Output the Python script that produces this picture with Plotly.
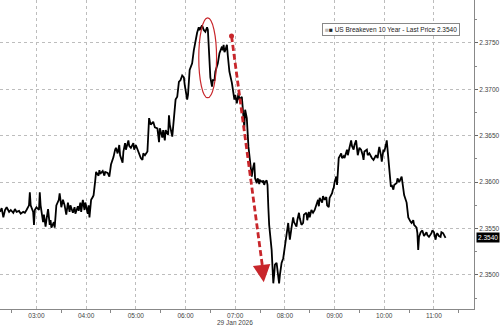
import plotly.graph_objects as go

DATE = "2026-01-29"

times = ["02:16","02:18","02:20","02:22","02:24","02:27","02:29","02:32","02:34","02:36","02:39","02:41","02:44","02:46","02:48","02:51","02:52","02:53","02:56","02:57","02:58",
"03:00","03:03","03:04","03:05","03:08","03:09","03:11","03:12","03:14","03:16","03:17","03:18","03:21","03:22","03:24","03:27","03:28","03:29","03:30","03:32","03:34","03:36","03:38","03:40","03:41","03:44","03:46","03:47","03:50","03:51","03:53","03:54","03:56","03:58","03:59",
"04:02","04:03","04:04","04:05","04:06","04:08","04:09","04:11","04:12","04:15","04:16","04:17","04:20","04:22","04:23","04:26","04:28","04:30","04:32","04:33","04:35","04:36","04:38","04:40","04:41","04:44","04:45","04:47","04:48","04:51","04:52","04:54","04:57","04:58",
"05:00","05:03","05:04","05:06","05:08","05:09","05:11","05:14","05:15","05:16","05:18","05:21","05:23","05:26","05:27","05:28","05:29","05:32","05:33","05:35","05:36","05:39","05:40","05:41","05:44","05:46","05:48","05:50","05:52","05:54","05:56","05:58","05:59",
"06:02","06:03","06:05","06:08","06:10","06:12","06:14","06:16","06:17","06:20","06:22","06:24","06:26","06:27","06:28","06:29","06:30","06:32","06:33","06:35","06:36","06:39","06:40","06:41","06:44","06:45","06:46","06:47","06:48","06:50","06:51","06:52","06:53","06:56","06:57","06:59",
"07:00","07:02","07:04","07:05","07:08","07:09","07:10","07:11","07:12","07:14","07:16","07:17","07:20","07:21","07:23","07:24","07:26","07:27","07:28","07:29","07:30","07:33","07:34","07:35","07:36","07:38","07:39","07:40","07:41","07:44","07:45","07:46","07:47","07:48","07:50","07:51","07:53","07:54","07:56","07:58","07:59",
"08:00","08:02","08:03","08:04","08:05","08:06","08:08","08:09","08:10","08:11","08:14","08:15","08:17","08:18","08:20","08:22","08:23","08:26","08:27","08:29","08:30","08:32","08:34","08:36","08:38","08:40","08:41","08:42","08:45","08:46","08:48","08:50","08:51","08:53","08:54","08:57","08:58","08:59",
"09:00","09:02","09:03","09:04","09:05","09:08","09:09","09:11","09:12","09:15","09:16","09:18","09:20","09:21","09:23","09:24","09:26","09:27","09:28","09:30","09:32","09:34","09:35","09:36","09:39","09:40","09:42","09:45","09:47","09:50","09:52","09:53","09:54","09:56","09:57","09:59",
"10:00","10:02","10:03","10:04","10:05","10:06","10:08","10:09","10:11","10:12","10:15","10:16","10:18","10:21","10:22","10:23","10:24","10:27","10:28","10:29","10:32","10:33","10:35","10:36","10:39","10:40","10:41","10:42","10:44","10:46","10:48","10:51","10:52","10:54","10:57","10:58",
"11:00","11:02","11:03","11:04","11:06","11:08","11:09","11:11","11:14"]

values = [2.3568,2.3572,2.3562,2.3570,2.3573,2.3568,2.3570,2.3567,2.3571,2.3568,2.3569,2.3566,2.3568,2.3567,2.3570,2.3575,2.3589,2.3575,2.3568,2.3554,2.3570,
2.3573,2.3570,2.3589,2.3575,2.3557,2.3565,2.3552,2.3559,2.3571,2.3554,2.3559,2.3551,2.3557,2.3551,2.3575,2.3581,2.3588,2.3581,2.3573,2.3581,2.3575,2.3565,2.3578,2.3568,2.3575,2.3567,2.3573,2.3566,2.3574,2.3569,2.3578,2.3568,2.3581,2.3570,2.3578,
2.3566,2.3575,2.3562,2.3570,2.3581,2.3584,2.3586,2.3602,2.3611,2.3607,2.3613,2.3609,2.3612,2.3607,2.3611,2.3610,2.3606,2.3619,2.3624,2.3627,2.3635,2.3637,2.3631,2.3640,2.3629,2.3621,2.3633,2.3642,2.3635,2.3645,2.3639,2.3637,2.3642,2.3635,
2.3640,2.3633,2.3629,2.3626,2.3624,2.3631,2.3629,2.3633,2.3651,2.3669,2.3662,2.3665,2.3659,2.3658,2.3651,2.3643,2.3658,2.3648,2.3656,2.3645,2.3656,2.3651,2.3672,2.3662,2.3649,2.3667,2.3689,2.3692,2.3708,2.3710,2.3715,2.3713,2.3705,
2.3689,2.3694,2.3721,2.3728,2.3742,2.3753,2.3761,2.3767,2.3764,2.3769,2.3764,2.3762,2.3767,2.3764,2.3748,2.3726,2.3713,2.3703,2.3710,2.3710,2.3719,2.3728,2.3734,2.3739,2.3746,2.3742,2.3748,2.3740,2.3742,2.3748,2.3737,2.3726,2.3719,2.3707,2.3699,2.3689,
2.3694,2.3685,2.3696,2.3689,2.3692,2.3683,2.3675,2.3659,2.3678,2.3669,2.3638,2.3629,2.3606,2.3613,2.3621,2.3604,2.3599,2.3604,2.3602,2.3598,2.3602,2.3600,2.3602,2.3597,2.3600,2.3602,2.3597,2.3573,2.3554,2.3527,2.3511,2.3491,2.3500,2.3511,2.3513,2.3503,2.3491,2.3500,2.3513,2.3518,2.3524,
2.3532,2.3545,2.3551,2.3556,2.3546,2.3538,2.3551,2.3557,2.3562,2.3557,2.3552,2.3559,2.3567,2.3561,2.3554,2.3556,2.3565,2.3567,2.3559,2.3568,2.3562,2.3570,2.3567,2.3570,2.3576,2.3581,2.3574,2.3583,2.3578,2.3585,2.3581,2.3584,2.3575,2.3573,2.3583,2.3588,2.3592,2.3594,
2.3600,2.3606,2.3597,2.3616,2.3626,2.3631,2.3626,2.3628,2.3626,2.3635,2.3629,2.3637,2.3645,2.3639,2.3635,2.3640,2.3645,2.3637,2.3629,2.3637,2.3635,2.3629,2.3624,2.3633,2.3635,2.3629,2.3631,2.3626,2.3624,2.3629,2.3626,2.3633,2.3638,2.3629,2.3622,2.3635,
2.3633,2.3640,2.3645,2.3635,2.3624,2.3608,2.3595,2.3597,2.3592,2.3597,2.3599,2.3604,2.3600,2.3606,2.3599,2.3592,2.3586,2.3578,2.3570,2.3562,2.3557,2.3556,2.3559,2.3554,2.3551,2.3545,2.3527,2.3541,2.3546,2.3548,2.3542,2.3546,2.3543,2.3541,2.3545,2.3548,
2.3546,2.3538,2.3543,2.3545,2.3542,2.3541,2.3546,2.3545,2.3540]

last_price = 2.3540
series_name = "US Breakeven 10 Year - Last Price"
date_label = "29 Jan 2026"

x = [f"{DATE} {t}" for t in times]

FONT = "Liberation Sans, Arial, sans-serif"
RED = "#c8262b"

fig = go.Figure()
fig.add_trace(go.Scatter(x=x, y=values, mode="lines",
                         line=dict(color="#000000", width=1.8), showlegend=False,
                         hoverinfo="skip"))

# red dashed arrow (annotation drawing)
arrow_start = (f"{DATE} 06:55:34", 2.37575)
arrow_end = (f"{DATE} 07:34:30", 2.3492)
fig.add_shape(type="line", xref="x", yref="y",
              x0=arrow_start[0], y0=arrow_start[1],
              x1=f"{DATE} 07:33:30", y1=2.3505,
              line=dict(color=RED, width=2.8, dash="6px,3px"))
fig.add_trace(go.Scatter(x=[arrow_start[0]], y=[arrow_start[1]], mode="markers",
                         marker=dict(color=RED, size=5), showlegend=False,
                         hoverinfo="skip"))
fig.add_annotation(x=arrow_end[0], y=arrow_end[1], xref="x", yref="y",
                   showarrow=True, arrowhead=2, arrowsize=1.25, arrowwidth=2.8,
                   arrowcolor=RED, ax=-1.5, ay=-12, text="")
# ellipse
fig.add_shape(type="circle", xref="x", yref="y",
              x0=f"{DATE} 06:16:00", x1=f"{DATE} 06:37:30",
              y0=2.3691, y1=2.3777,
              line=dict(color=RED, width=1.2))

# legend box
fig.add_annotation(xref="paper", yref="paper", x=0.971, y=0.906,
                   xanchor="right", yanchor="middle", showarrow=False,
                   text=f"<span style='color:#bbbbbb'>■</span>■ {series_name} {last_price:.4f}",
                   font=dict(family=FONT, size=6.5, color="#222222"),
                   bgcolor="white", bordercolor="#888888", borderwidth=1, borderpad=2)

# last price tag
fig.add_annotation(xref="paper", yref="y", x=1.0, y=last_price, xshift=2,
                   xanchor="left", yanchor="middle", showarrow=False,
                   text=f"{last_price:.4f}",
                   font=dict(family=FONT, size=6.5, color="white"),
                   bgcolor="black", borderpad=1)

# date label
fig.add_annotation(xref="x", yref="paper", x=f"{DATE} 07:00", y=0, yshift=-8,
                   xanchor="center", yanchor="top", showarrow=False,
                   text=date_label, font=dict(family=FONT, size=6.5, color="#444444"))

fig.update_layout(
    width=500, height=325,
    margin=dict(l=0, r=23, t=0, b=16),
    paper_bgcolor="white", plot_bgcolor="white",
    font=dict(family=FONT, size=6.5, color="#444444"),
    xaxis=dict(type="date",
               range=[f"{DATE} 02:15:58", f"{DATE} 11:48:22"],
               tick0=f"{DATE} 00:00", dtick=3600000, tickformat="%H:%M",
               showgrid=True, gridcolor="#bdbdbd", griddash="dot", gridwidth=1,
               showline=True, linecolor="#888888", linewidth=1,
               ticks="", ticklen=2,
               minor=dict(dtick=1800000, ticks="outside", ticklen=3, tickcolor="#888888", showgrid=False),
               tickfont=dict(family=FONT, size=6.5, color="#444444"),
               zeroline=False),
    yaxis=dict(side="right", range=[2.34633, 2.37963],
               tick0=2.35, dtick=0.005, tickformat=".4f",
               showgrid=True, gridcolor="#bdbdbd", griddash="dot", gridwidth=1,
               showline=True, linecolor="#888888", linewidth=1,
               ticks="outside", ticklen=3, tickcolor="#666666",
               minor=dict(dtick=0.0025, ticks="outside", ticklen=2, tickcolor="#888888", showgrid=False),
               tickfont=dict(family=FONT, size=6.5, color="#444444"),
               zeroline=False),
)

fig.write_html("out.html")
